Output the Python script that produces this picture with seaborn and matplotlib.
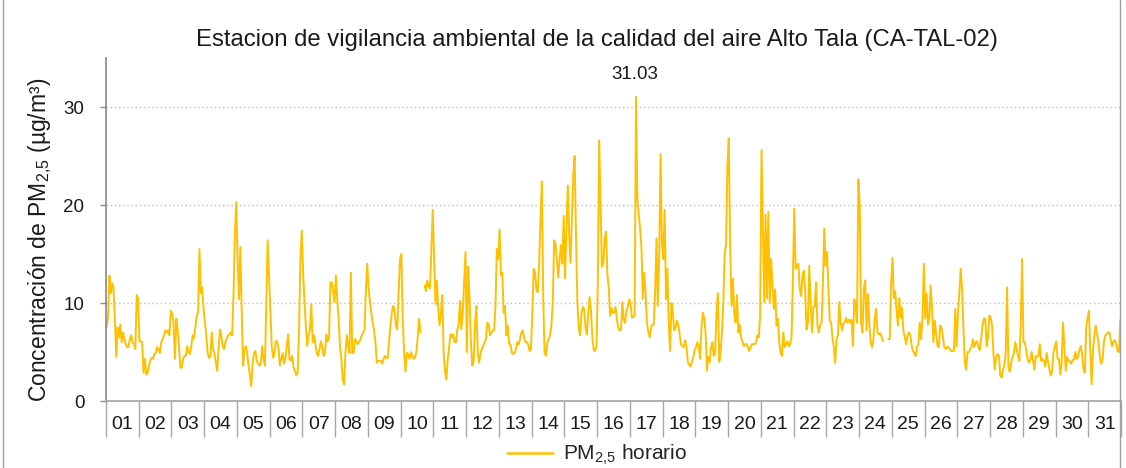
import numpy as np
import pandas as pd
import matplotlib
matplotlib.use("Agg")
import matplotlib.pyplot as plt
from matplotlib.lines import Line2D
import seaborn as sns

nan = np.nan

# hourly PM2.5 (ug/m3), one list of 24 values per day
d01 = [7.5, 8.5, 12.8, 11.0, 12.0, 11.5, 8.5, 4.5, 7.5, 6.5, 7.8, 6.0, 7.0, 6.3, 5.8, 5.5, 5.5, 6.3, 6.7, 6.0, 5.8, 5.3, 10.8, 10.5]
d02 = [6.1, 6.1, 6.0, 2.9, 4.3, 2.7, 2.9, 3.6, 4.1, 4.4, 4.3, 4.8, 4.9, 5.5, 5.3, 4.9, 6.0, 6.3, 6.7, 7.2, 7.0, 7.2, 6.7, 9.2]
d03 = [8.9, 8.0, 4.3, 8.4, 7.3, 5.6, 3.4, 3.4, 4.3, 4.6, 4.6, 5.6, 5.0, 4.8, 5.6, 6.7, 6.4, 7.5, 8.7, 9.0, 15.5, 11.0, 11.6, 9.5]
d04 = [8.0, 6.7, 4.9, 4.4, 4.6, 7.0, 5.3, 4.9, 3.9, 3.1, 5.3, 7.3, 6.7, 5.6, 5.3, 6.0, 6.3, 6.7, 6.8, 7.0, 6.7, 11.1, 17.2, 20.3]
d05 = [14.5, 10.4, 15.7, 9.0, 3.6, 5.3, 5.6, 4.9, 3.6, 2.6, 1.5, 3.9, 4.9, 5.1, 4.1, 3.8, 3.6, 3.8, 5.6, 4.3, 3.6, 10.1, 16.4, 12.8]
d06 = [9.0, 5.6, 4.4, 4.9, 6.1, 6.1, 5.3, 3.6, 4.3, 4.9, 3.8, 4.3, 5.6, 6.8, 4.3, 4.1, 4.6, 3.4, 3.1, 2.6, 2.9, 7.3, 14.5, 17.4]
d07 = [13.1, 10.1, 7.7, 5.6, 6.7, 7.3, 9.9, 6.0, 6.7, 5.8, 4.9, 4.6, 5.3, 6.1, 5.6, 4.6, 4.9, 6.8, 6.1, 6.5, 12.1, 12.1, 11.1, 10.1]
d08 = [12.8, 10.4, 8.4, 5.6, 4.3, 2.2, 1.7, 4.9, 6.7, 5.6, 4.9, 13.1, 4.9, 4.9, 6.3, 6.1, 5.8, 6.0, 6.3, 6.7, 7.0, 7.2, 11.4, 14.0]
d09 = [11.4, 10.1, 9.0, 8.0, 7.2, 6.0, 3.9, 4.1, 4.1, 4.1, 3.8, 4.3, 4.6, 4.4, 4.4, 6.0, 7.7, 9.0, 9.7, 9.4, 7.7, 7.3, 11.1, 14.5]
d10 = [15.0, 8.5, 5.0, 3.0, 4.9, 4.8, 4.3, 5.0, 4.6, 4.3, 4.4, 5.0, 6.5, 8.4, 7.0, nan, nan, 11.8, 11.2, 12.3, 11.7, 11.5, 15.5, 19.5]
d11 = [14.5, 9.9, 12.3, 9.5, 7.7, 9.0, 10.8, 4.9, 3.0, 2.2, 4.3, 5.5, 6.8, 6.5, 6.8, 6.0, 6.0, 7.3, 7.7, 10.2, 7.3, 9.0, 12.0, 15.2]
d12 = [5.0, 13.7, 10.4, 6.0, 3.6, 4.1, 8.0, 9.7, 4.9, 3.9, 4.9, 5.3, 5.6, 6.0, 6.3, 8.0, 7.8, 6.7, 7.0, 7.2, 7.2, 9.7, 15.5, 14.5]
d13 = [17.5, 12.8, 13.1, 9.0, 9.7, 6.7, 7.7, 5.8, 5.8, 4.9, 4.8, 4.9, 5.3, 6.0, 5.8, 6.3, 7.0, 7.2, 6.5, 6.0, 6.0, 5.8, 5.1, 5.3]
d14 = [9.0, 13.5, 13.1, 11.3, 11.1, 14.0, 18.6, 22.4, 10.4, 4.9, 4.6, 6.0, 6.3, 6.7, 7.7, 10.1, 16.4, 16.0, 14.5, 12.6, 14.5, 15.9, 14.0, 18.9]
d15 = [12.5, 17.5, 22.0, 17.0, 14.1, 18.5, 23.0, 25.0, 17.0, 10.0, 7.5, 6.7, 8.8, 9.6, 9.4, 7.5, 6.8, 9.0, 10.6, 9.2, 6.5, 5.2, 5.1, 5.6]
d16 = [12.0, 26.6, 20.0, 13.7, 14.0, 16.5, 17.3, 13.0, 11.5, 8.7, 9.5, 9.0, 9.0, 9.6, 8.3, 7.5, 7.2, 7.3, 10.1, 8.3, 8.0, 9.2, 9.6, 10.4]
d17 = [10.0, 8.5, 8.6, 8.7, 31.03, 20.5, 19.0, 17.6, 15.7, 10.4, 13.1, 11.1, 8.0, 7.0, 6.5, 7.5, 7.8, 7.8, 11.0, 16.6, 9.7, 15.0, 25.2, 16.0]
d18 = [14.5, 19.5, 10.4, 13.5, 8.0, 5.1, 10.0, 9.0, 7.2, 7.5, 8.2, 7.8, 6.8, 5.8, 5.6, 5.5, 6.2, 5.5, 4.0, 3.7, 3.5, 4.0, 4.4, 5.2]
d19 = [5.5, 6.0, 5.5, 4.3, 7.5, 9.0, 8.5, 7.0, 3.1, 4.5, 4.0, 5.5, 6.0, 4.6, 5.0, 9.0, 11.0, 4.0, 4.9, 7.0, 10.0, 15.0, 16.0, 24.0]
d20 = [26.8, 16.0, 9.7, 12.5, 9.0, 8.0, 10.8, 7.0, 7.8, 6.5, 6.1, 5.6, 5.8, 5.8, 5.5, 5.1, 5.5, 5.8, 5.8, 5.8, 6.0, 6.7, 6.5, 8.7]
d21 = [25.6, 17.9, 10.1, 19.0, 10.5, 19.3, 10.0, 14.5, 12.0, 9.4, 11.4, 7.7, 8.4, 6.0, 4.9, 4.6, 7.0, 5.5, 5.8, 6.1, 5.6, 5.8, 6.5, 12.5]
d22 = [19.6, 13.5, 13.8, 14.0, 11.4, 10.7, 12.8, 13.3, 11.1, 7.3, 8.0, 13.8, 10.0, 7.0, 9.6, 9.6, 12.1, 7.7, 7.0, 7.8, 7.9, 12.0, 17.6, 13.8]
d23 = [15.2, 11.8, 8.2, 8.0, 6.5, 5.5, 3.9, 6.3, 6.7, 10.1, 8.0, 7.2, 7.9, 8.0, 8.5, 8.0, 8.3, 8.0, 8.3, 5.6, 10.4, 9.5, 8.0, 22.6]
d24 = [20.0, 8.0, 7.0, 11.4, 12.3, 7.2, 10.9, 8.0, 6.0, 5.5, 6.3, 8.4, 9.4, 7.0, 6.8, 6.9, 6.6, 6.1, nan, nan, nan, 6.3, 6.3, 12.0]
d25 = [14.6, 10.5, 11.2, 9.2, 7.7, 10.5, 8.5, 9.5, 7.2, 6.5, 5.8, 6.7, 7.0, 6.8, 5.7, 5.1, 4.9, 4.6, 5.5, 5.8, 8.0, 6.3, 8.5, 14.0]
d26 = [8.4, 11.0, 7.8, 8.5, 11.8, 9.4, 6.0, 8.2, 6.9, 5.6, 5.5, 7.7, 7.5, 6.5, 5.5, 5.3, 5.5, 5.5, 5.3, 5.1, 5.1, 5.1, 9.4, 5.6]
d27 = [9.0, 11.0, 13.5, 11.5, 7.5, 4.0, 3.2, 5.0, 5.0, 5.3, 5.5, 6.3, 5.5, 6.0, 6.1, 5.5, 5.2, 6.4, 7.7, 8.4, 8.4, 5.6, 6.5, 8.7]
d28 = [8.5, 7.7, 4.9, 3.2, 4.5, 4.8, 4.6, 2.6, 2.4, 3.2, 3.6, 5.0, 11.6, 3.4, 3.0, 3.9, 4.5, 4.9, 6.0, 5.3, 4.6, 4.1, 7.7, 14.5]
d29 = [6.0, 6.0, 5.2, 4.3, 3.9, 4.2, 5.0, 4.1, 3.2, 4.6, 4.5, 4.6, 5.8, 4.1, 4.3, 4.1, 3.5, 4.9, 4.0, 3.3, 2.6, 3.0, 5.0, 5.5]
d30 = [6.1, 4.3, 4.3, 2.7, 4.0, 8.0, 5.5, 3.1, 4.5, 4.1, 4.0, 3.8, 4.2, 4.2, 5.0, 4.3, 4.5, 5.2, 5.6, 4.8, 3.2, 2.9, 7.5, 8.5]
d31 = [9.2, 5.0, 1.7, 5.3, 6.7, 7.7, 6.8, 6.0, 4.5, 3.8, 4.2, 6.0, 6.7, 6.8, 7.0, 7.0, 6.2, 5.6, 6.1, 6.2, 5.8, 5.1, 5.0, 8.3]

days = [d01, d02, d03, d04, d05, d06, d07, d08, d09, d10, d11, d12, d13, d14, d15, d16,
        d17, d18, d19, d20, d21, d22, d23, d24, d25, d26, d27, d28, d29, d30, d31]
day_labels = [f"{i:02d}" for i in range(1, 32)]

title = "Estacion de vigilancia ambiental de la calidad del aire Alto Tala (CA-TAL-02)"
ylabel = "Concentración de PM$_{2{,}5}$ (µg/m³)"
series_name = "PM$_{2{,}5}$ horario"
line_color = "#FFC000"

values = np.concatenate([np.array(d, dtype=float) for d in days])
df = pd.DataFrame({"hour": np.arange(len(values)) + 0.5, "pm25": values})
# split into segments at missing hours so gaps stay open
df["seg"] = df["pm25"].isna().cumsum()
df = df.dropna()

sns.set_theme(style="white")
plt.rcParams["font.family"] = ["Liberation Sans", "DejaVu Sans"]
plt.rcParams["mathtext.fontset"] = "custom"
plt.rcParams["mathtext.rm"] = "Liberation Sans"
plt.rcParams["mathtext.it"] = "Liberation Sans"

W, H = 1126, 468
fig = plt.figure(figsize=(W / 100, H / 100), dpi=100)
ax = fig.add_axes([106 / W, 1 - 401 / H, (1121 - 106) / W, (401 - 58) / H])

sns.lineplot(data=df, x="hour", y="pm25", units="seg", estimator=None,
             color=line_color, linewidth=1.4, ax=ax, legend=False)

n_days = len(days)
ax.set_xlim(0, 24 * n_days)
ax.set_ylim(0, 35)
ax.set_yticks([0, 10, 20, 30])
ax.yaxis.grid(True, linestyle=(0, (1, 2)), color="#BFBFBF", linewidth=1.0)
ax.set_axisbelow(True)

ax.set_xticks(np.arange(0, 24 * n_days + 1, 24))
ax.set_xticklabels([])
ax.set_xticks(np.arange(12, 24 * n_days, 24), minor=True)
ax.set_xticklabels(day_labels, minor=True)
ax.tick_params(axis="x", which="major", length=26, width=1, color="#A6A6A6", direction="out", bottom=True)
ax.tick_params(axis="x", which="minor", length=0, pad=11, labelsize=14, labelcolor="#1a1a1a")
ax.tick_params(axis="y", length=4.5, width=1, color="#8C8C8C", direction="out", left=True,
               labelsize=13.5, pad=11, labelcolor="#1a1a1a")

for s in ["top", "right"]:
    ax.spines[s].set_visible(False)
ax.spines["left"].set_color("#8C8C8C")
ax.spines["bottom"].set_color("#A6A6A6")
ax.set_xlabel("")
ax.set_ylabel("")

# max annotation
imax = df["pm25"].idxmax()
ax.annotate(f"{df.loc[imax, 'pm25']:.2f}", xy=(df.loc[imax, "hour"], df.loc[imax, "pm25"]),
            xytext=(-1, 10), textcoords="offset points", ha="center", va="bottom",
            fontsize=13.5, color="#1a1a1a")

fig.text(597 / W, 1 - 40 / H, title, ha="center", va="center", fontsize=17.2, color="#1a1a1a")
fig.text(40 / W, 1 - 240 / H, ylabel, ha="center", va="center", rotation=90,
         fontsize=16.5, color="#1a1a1a")

handle = Line2D([], [], color=line_color, linewidth=1.8)
fig.legend([handle], [series_name], loc="center", bbox_to_anchor=(597 / W, 1 - 455 / H),
           frameon=False, fontsize=15, handlelength=2.2, handletextpad=0.5)

# chart frame
for xp in (2.5, 1119.5):
    fig.add_artist(Line2D([xp / W, xp / W], [0, 1], transform=fig.transFigure,
                          color="#A0A0A0", linewidth=1))

fig.savefig("out.png", dpi=100)
